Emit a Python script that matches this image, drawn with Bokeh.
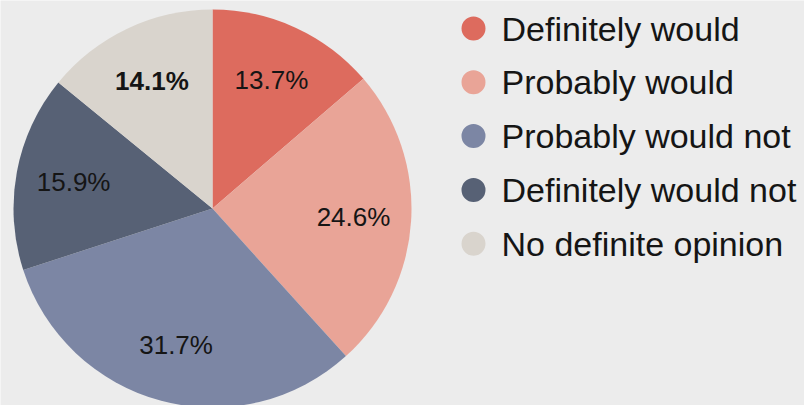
import math
from bokeh.plotting import figure
from bokeh.models import ColumnDataSource
from bokeh.core.properties import value
from bokeh.embed import file_html
from bokeh.resources import INLINE

categories = ["Definitely would", "Probably would", "Probably would not",
              "Definitely would not", "No definite opinion"]
shares = [13.7, 24.6, 31.7, 15.9, 14.1]
labels = ["13.7%", "24.6%", "31.7%", "15.9%", "14.1%"]
label_styles = ["normal", "normal", "normal", "normal", "bold"]
colors = ["#dd6b5e", "#e9a497", "#7c86a4", "#576175", "#d9d4cd"]

W, H = 804, 405
BG = "#ececec"
cx, cy, R = 212, H - 208, 199

total = sum(shares)
starts, ends, lx, ly = [], [], [], []
cum = 0.0
for s in shares:
    a0 = math.pi / 2 - 2 * math.pi * (cum + s) / total
    a1 = math.pi / 2 - 2 * math.pi * cum / total
    starts.append(a0)
    ends.append(a1)
    mid = (a0 + a1) / 2
    lx.append(cx + 0.71 * R * math.cos(mid))
    ly.append(cy + 0.71 * R * math.sin(mid))
    cum += s

src = ColumnDataSource(dict(start=starts, end=ends, color=colors, lx=lx, ly=ly,
                            label=labels, style=label_styles))

p = figure(width=W, height=H, x_range=(0, W), y_range=(0, H),
           output_backend="svg", toolbar_location=None, min_border=0)
p.axis.visible = False
p.grid.visible = False
p.outline_line_color = None
p.background_fill_color = BG
p.border_fill_color = BG

p.wedge(x=cx, y=cy, radius=R, radius_units="screen", start_angle="start",
        end_angle="end", fill_color="color", line_color=None, source=src)
p.text(x="lx", y="ly", text="label", text_font=value("Liberation Sans"),
       text_font_size="26px", text_font_style="style", text_color="#151515",
       text_align="center", text_baseline="middle", source=src)

leg_y = [H - (28 + 53.8 * i) for i in range(len(categories))]
leg = ColumnDataSource(dict(x=[473] * len(categories), tx=[501] * len(categories),
                            y=leg_y, name=categories, color=colors))
p.scatter(x="x", y="y", size=24, marker="circle", fill_color="color",
          line_color=None, source=leg)
p.text(x="tx", y="y", text="name", text_font=value("Liberation Sans"),
       text_font_size="34px", text_color="#151515", text_align="left",
       text_baseline="middle", source=leg)

html = file_html(p, INLINE)
html = html.replace("<body>", '<body style="margin:0;background:%s;overflow:hidden">' % BG, 1)
open("out.html", "w").write(html)
